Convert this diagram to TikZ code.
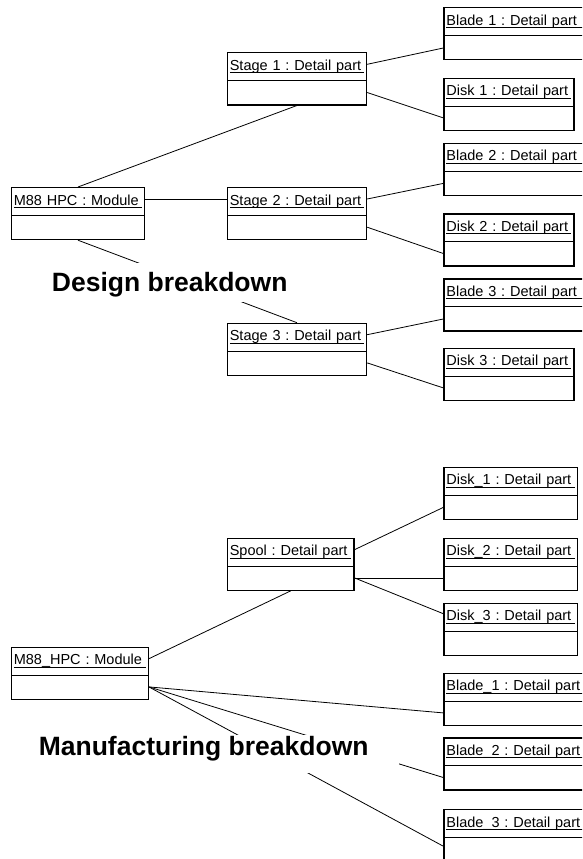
\documentclass[tikz,border=0pt]{standalone}
\usepackage{fontspec}
\setmainfont{Liberation Sans}
\frenchspacing
\begin{document}
\begin{tikzpicture}[
        x=1pt, y=-1pt,
        obj/.style={draw, line width=1.2pt, anchor=north west, text width=#1, align=left,
            inner xsep=2.5pt, inner ysep=0pt, text height=17.5pt, text depth=34.5pt,
            font=\fontsize{14.5pt}{17pt}\selectfont,
            path picture={
                \draw[line width=0.9pt] ([xshift=2.5pt,yshift=-20pt]path picture bounding box.north west)
                    -- ([xshift=-2.5pt,yshift=-20pt]path picture bounding box.north east);
                \draw[line width=1.2pt] ([yshift=-27.8pt]path picture bounding box.north west)
                    -- ([yshift=-27.8pt]path picture bounding box.north east);
            }}, % name compartment + empty attribute compartment
        link/.style={draw, line width=0.8pt},
        caption/.style={fill=white, anchor=base, inner ysep=0pt, font=\fontsize{26.5pt}{30pt}\selectfont\bfseries}
    ]
    \path[use as bounding box] (0,0) rectangle (582,859);
    \clip (0,0) rectangle (582,859);

    % design breakdown
    \node[obj=128.3pt] (hpc) at (10.7,187) {M88 HPC : Module};
    \node[obj=134.3pt] (s1) at (226.7,52.3) {Stage 1 : Detail part};
    \node[obj=134.3pt] (s2) at (226.7,187) {Stage 2 : Detail part};
    \node[obj=134.3pt] (s3) at (226.7,322.7) {Stage 3 : Detail part};
    \node[obj=145pt] (b1) at (443.3,7.3) {Blade 1 : Detail part};
    \node[obj=125pt] (d1) at (443.3,77.7) {Disk 1 : Detail part};
    \node[obj=145pt] (b2) at (443.3,142.7) {Blade 2 : Detail part};
    \node[obj=125pt] (d2) at (443.3,213.3) {Disk 2 : Detail part};
    \node[obj=145pt] (b3) at (443.3,278.3) {Blade 3 : Detail part};
    \node[obj=125pt] (d3) at (443.3,347.7) {Disk 3 : Detail part};

    \draw[link] (hpc.north) -- (s1.south);
    \draw[link] ([yshift=-12.5pt]hpc.north east) -- ([yshift=-12.5pt]s2.north west);
    \draw[link] (hpc.south) -- (s3.north);
    \draw[link] ([yshift=-12pt]s1.north east) -- ([yshift=12.5pt]b1.south west);
    \draw[link] ([yshift=13pt]s1.south east) -- ([yshift=13pt]d1.south west);
    \draw[link] ([yshift=-12pt]s2.north east) -- ([yshift=12.5pt]b2.south west);
    \draw[link] ([yshift=13pt]s2.south east) -- ([yshift=13pt]d2.south west);
    \draw[link] ([yshift=-12pt]s3.north east) -- ([yshift=12.5pt]b3.south west);
    \draw[link] ([yshift=13pt]s3.south east) -- ([yshift=13pt]d3.south west);

    % manufacturing breakdown
    \node[obj=132pt] (mhpc) at (10.7,646.7) {M88\_HPC : Module};
    \node[obj=121.6pt] (spool) at (226.7,537.7) {Spool : Detail part};
    \node[obj=128.7pt] (dd1) at (443.3,466.7) {Disk\_1 : Detail part};
    \node[obj=128.7pt] (dd2) at (443.3,537.7) {Disk\_2 : Detail part};
    \node[obj=128.7pt] (dd3) at (443.3,602.7) {Disk\_3 : Detail part};
    \node[obj=145pt] (bb1) at (443.3,672.7) {Blade\_1 : Detail part};
    \node[obj=145pt] (bb2) at (443.3,737.3) {Blade\_2 : Detail part};
    \node[obj=145pt] (bb3) at (443.3,809) {Blade\_3 : Detail part};

    \draw[link] ([yshift=-12pt]spool.north east) -- ([yshift=12.5pt]dd1.south west);
    \draw[link] ([yshift=13pt]spool.south east) -- ([yshift=13pt]dd2.south west);
    \draw[link] ([yshift=13pt]spool.south east) -- ([yshift=-11pt]dd3.north west);
    \draw[link] (spool.south) -- ([yshift=-12pt]mhpc.north east);
    \draw[link] ([yshift=13pt]mhpc.south east) -- ([yshift=13pt]bb1.south west);
    \draw[link] ([yshift=13pt]mhpc.south east) -- ([yshift=13pt]bb2.south west);
    \draw[link] ([yshift=13pt]mhpc.south east) -- ([yshift=16pt]bb3.south west);

    % captions hide the links that run behind them
    \node[caption, inner xsep=8pt, text height=28pt, text depth=11pt] (design) at (169.7,291) {Design breakdown};
    \node[caption, inner xsep=30pt, text height=20.5pt, text depth=17.5pt] (manuf) at (203.7,755) {Manufacturing breakdown};
\end{tikzpicture}
\end{document}
